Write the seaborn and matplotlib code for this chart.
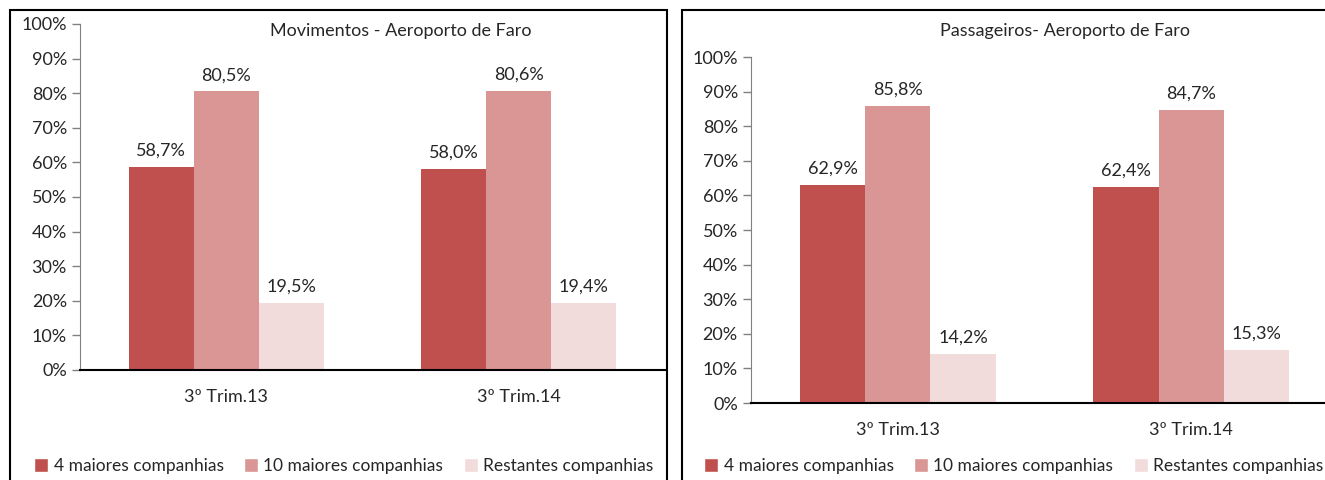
import pandas as pd
import matplotlib.pyplot as plt
import seaborn as sns
from matplotlib.patches import Rectangle
from matplotlib.ticker import FixedLocator

# data
periodos = ["3º Trim.13", "3º Trim.14"]
grupos = ["4 maiores companhias", "10 maiores companhias", "Restantes companhias"]
mov_4 = [58.7, 58.0]
mov_10 = [80.5, 80.6]
mov_rest = [19.5, 19.4]
pax_4 = [62.9, 62.4]
pax_10 = [85.8, 84.7]
pax_rest = [14.2, 15.3]
cores = ["#C0504D", "#D99694", "#F2DCDB"]

sns.set_style("white")
plt.rcParams['font.family'] = ['Lato', 'DejaVu Sans']


def long_df(s4, s10, srest):
    rows = []
    for g, serie in zip(grupos, [s4, s10, srest]):
        for p, v in zip(periodos, serie):
            rows.append({"periodo": p, "grupo": g, "valor": v})
    return pd.DataFrame(rows)


def painel(ax, df):
    sns.barplot(data=df, x="periodo", y="valor", hue="grupo", palette=cores,
                width=0.667, gap=0, saturation=1, legend=False, ax=ax,
                errorbar=None, linewidth=0)
    for cont, g in zip(ax.containers, grupos):
        vals = df[df.grupo == g]["valor"].tolist()
        ax.bar_label(cont, labels=[f"{v:.1f}%".replace(".", ",") for v in vals],
                     padding=6, fontsize=13)
    ax.set_xlim(-0.5, 1.5)
    ax.set_ylim(0, 100)
    ax.set_yticks(range(0, 101, 10))
    ax.set_yticklabels([f"{v}%" for v in range(0, 101, 10)])
    ax.xaxis.set_minor_locator(FixedLocator([-0.5, 0.5, 1.5]))
    ax.tick_params(axis="x", which="major", length=0, labelsize=13, pad=14)
    ax.tick_params(axis="x", which="minor", length=6, width=1, color="black", direction="out")
    ax.tick_params(axis="y", length=6, width=1, color="#808080", direction="out",
                   labelsize=13, left=True)
    ax.set_xlabel("")
    ax.set_ylabel("")
    sns.despine(ax=ax)
    ax.spines["left"].set_color("#808080")
    ax.spines["bottom"].set_color("black")
    ax.spines["bottom"].set_linewidth(1.5)


fig = plt.figure(figsize=(13.25, 4.8), dpi=100)
ax1 = fig.add_axes([0.0604, 0.2292, 0.4415, 0.7208])
ax2 = fig.add_axes([0.5668, 0.1604, 0.4430, 0.7208])

painel(ax1, long_df(mov_4, mov_10, mov_rest))
painel(ax2, long_df(pax_4, pax_10, pax_rest))

# panel borders
fig.patches.append(Rectangle((10 / 1325, -0.05), 657 / 1325, 1.05 - 10 / 480,
                             transform=fig.transFigure, fill=False,
                             edgecolor="black", linewidth=1.5))
fig.patches.append(Rectangle((682 / 1325, -0.05), 660 / 1325, 1.05 - 10 / 480,
                             transform=fig.transFigure, fill=False,
                             edgecolor="black", linewidth=1.5))

fig.text(401 / 1325, 1 - 31 / 480, "Movimentos - Aeroporto de Faro",
         ha="center", va="center", fontsize=13)
fig.text(1065 / 1325, 1 - 31 / 480, "Passageiros- Aeroporto de Faro",
         ha="center", va="center", fontsize=13)

handles = [Rectangle((0, 0), 1, 1, facecolor=c) for c in cores]
for cx in [344 / 1325, 1014 / 1325]:
    fig.legend(handles, grupos, loc="center", bbox_to_anchor=(cx, 1 - 466 / 480),
               ncol=3, frameon=False, fontsize=12.5, handlelength=0.8,
               handleheight=0.8, handletextpad=0.3, columnspacing=1.2,
               borderpad=0)

fig.savefig("out.png", dpi=100)
